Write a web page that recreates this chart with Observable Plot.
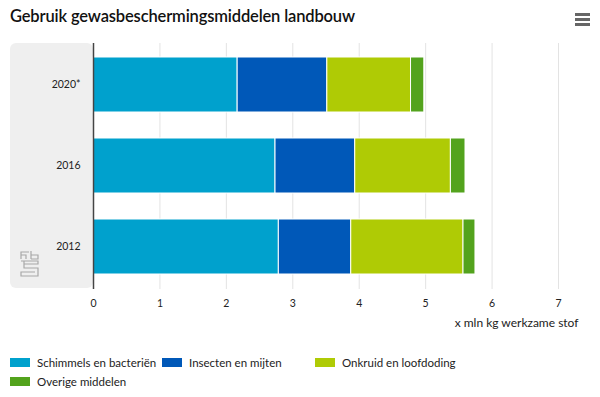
<!DOCTYPE html>
<html><head><meta charset="utf-8">
<script src="https://cdn.jsdelivr.net/npm/d3@7"></script>
<script src="https://cdn.jsdelivr.net/npm/@observablehq/plot@0.6"></script>
<style>
body{margin:0;background:#fff;font-family:Lato,"Open Sans",sans-serif;width:600px;height:397px;position:relative;overflow:hidden}
#title{position:absolute;left:10px;top:6px;font-size:16.5px;font-weight:600;color:#111;letter-spacing:-0.15px}
#menu{position:absolute;left:575px;top:13px;width:15px}
#menu div{height:2.5px;background:#666;margin-bottom:2.5px}
#panel{position:absolute;left:10px;top:43px;width:83px;height:245px;background:#efefef;border-radius:6px}
#logo{position:absolute;left:20px;top:250px}
#chart{position:absolute;left:0;top:40px}
#legend{position:absolute;left:10px;top:356px;width:590px;font-size:11.5px;color:#222}
.item{position:absolute;display:flex;align-items:center;white-space:nowrap}
.sw{width:20px;height:9px;margin-right:7px}
</style></head>
<body>
<div id="title">Gebruik gewasbeschermingsmiddelen landbouw</div>
<div id="menu"><div></div><div></div><div></div></div>
<div id="panel"></div>
<svg id="logo" width="20" height="28" viewBox="0 0 20 28" fill="none" stroke="#a8a8a8" stroke-width="1.2">
<path d="M1 9 V2 H9 M1 5 H6 V9 M11 9 V1 M11 5 H18 V9 H11 M1 11 H18 V14 H4 V18 H18 V26 H1 V22 H15 M4 14 V11"/>
</svg>
<div id="chart"></div>
<div id="legend"></div>
<script>
const years = ["2020*", "2016", "2012"];
const series = ["Schimmels en bacteriën", "Insecten en mijten", "Onkruid en loofdoding", "Overige middelen"];
const schimmels = [2.17, 2.74, 2.79];
const insecten = [1.35, 1.20, 1.09];
const onkruid = [1.26, 1.44, 1.69];
const overige = [0.20, 0.22, 0.18];
const colors = ["#00a1cd", "#0058b8", "#afcb05", "#53a31d"];
const xTicks = [0, 1, 2, 3, 4, 5, 6, 7];

const valuesBySeries = [schimmels, insecten, onkruid, overige];
const data = [];
years.forEach((y, i) => series.forEach((s, j) => data.push({year: y, serie: s, value: valuesBySeries[j][i], order: j})));

const plot = Plot.plot({
  width: 600,
  height: 295,
  marginTop: 3,
  marginBottom: 46,
  marginLeft: 93,
  marginRight: 42,
  style: {fontFamily: "Lato, 'Open Sans', sans-serif", fontSize: "10.5px", color: "#222", background: "transparent"},
  x: {domain: [0, 7], ticks: xTicks, label: null},
  y: {domain: years, paddingInner: 0.317, paddingOuter: 0.159, label: null},
  color: {domain: series, range: colors},
  marks: [
    Plot.gridX(xTicks.slice(1), {stroke: "#e3e3e3", strokeOpacity: 1, strokeWidth: 1}),
    Plot.barX(data, Plot.stackX({x: "value", y: "year", fill: "serie", order: "order", stroke: "#fff", strokeWidth: 1, inset: 0})),
    Plot.ruleX([0], {stroke: "#444", strokeWidth: 1.5}),
    Plot.axisX({ticks: xTicks, tickSize: 0, tickPadding: 10, label: null, tickFormat: d3.format("d")}),
    Plot.axisY({tickSize: 0, tickPadding: 13, label: null}),
    Plot.text(["x mln kg werkzame stof"], {frameAnchor: "bottom-right", dx: 20, dy: 37, fontSize: 12, fill: "#222"})
  ]
});
document.getElementById("chart").appendChild(plot);

const legend = document.getElementById("legend");
const pos = [[0, 0], [152, 0], [305, 0], [0, 19]];
series.forEach((s, j) => {
  const it = document.createElement("div");
  it.className = "item";
  it.style.left = pos[j][0] + "px";
  it.style.top = pos[j][1] + "px";
  it.innerHTML = `<span class="sw" style="background:${colors[j]}"></span><span>${s}</span>`;
  legend.appendChild(it);
});
</script>
</body></html>
